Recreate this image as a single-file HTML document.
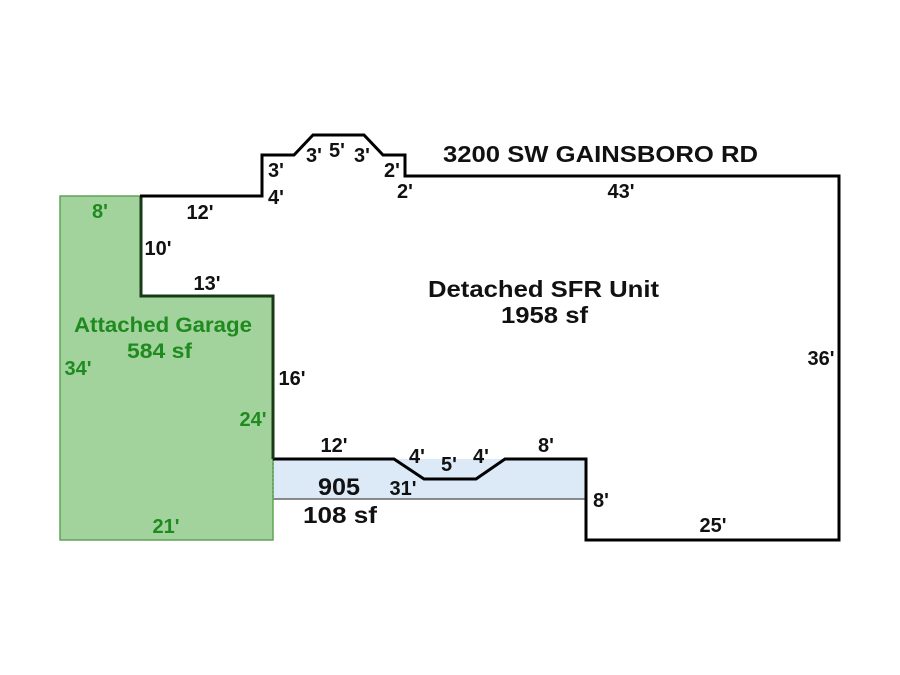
<!DOCTYPE html>
<html><head><meta charset="utf-8"><style>
html,body{margin:0;padding:0;background:#fff;}
svg{display:block;}
text{font-family:"Liberation Sans",Arial,sans-serif;font-weight:bold;}
</style></head><body>
<svg width="900" height="675" viewBox="0 0 900 675" xmlns="http://www.w3.org/2000/svg">
<rect width="900" height="675" fill="#fff"/>
<!-- blue patio -->
<rect x="273" y="459" width="313" height="40" fill="#dce9f7"/>
<line x1="273" y1="499" x2="586" y2="499" stroke="#666" stroke-width="1.5"/>
<!-- garage (L-shape) -->
<polygon points="60,196 141,196 141,296 273,296 273,540 60,540" fill="#a3d39c" stroke="#5fa555" stroke-width="1.5"/>
<line x1="273" y1="459" x2="273" y2="499" stroke="#4a8a44" stroke-width="1" stroke-dasharray="2,2"/>
<!-- house outline -->
<polyline points="141,196 262,196 262,155 294,155 313,135 364,135 383,155 405,155 405,176 839,176 839,540 586,540 586,459 505,459 476,479 424,479 394,459 273,459" fill="none" stroke="#000" stroke-width="3" stroke-linejoin="miter"/>
<polyline points="141,196 141,296 273,296 273,459" fill="none" stroke="#173a17" stroke-width="3"/>
<line x1="140" y1="196" x2="263" y2="196" stroke="#000" stroke-width="3"/>

<!-- big labels -->
<text x="443" y="162" font-size="23.5" textLength="315" lengthAdjust="spacingAndGlyphs" fill="#111">3200 SW GAINSBORO RD</text>
<text x="428" y="297" font-size="23.5" textLength="231" lengthAdjust="spacingAndGlyphs" fill="#111">Detached SFR Unit</text>
<text x="501" y="323" font-size="23.5" textLength="87" lengthAdjust="spacingAndGlyphs" fill="#111">1958 sf</text>
<text x="318" y="495" font-size="24" textLength="42" lengthAdjust="spacingAndGlyphs" fill="#111">905</text>
<text x="303" y="523" font-size="23.5" textLength="74" lengthAdjust="spacingAndGlyphs" fill="#111">108 sf</text>
<text x="74" y="332" font-size="21" textLength="178" lengthAdjust="spacingAndGlyphs" fill="#1f8a1f">Attached Garage</text>
<text x="127" y="358" font-size="21" textLength="65" lengthAdjust="spacingAndGlyphs" fill="#1f8a1f">584 sf</text>

<!-- dimension labels black -->
<g font-size="20" fill="#111" text-anchor="middle">
<text x="200" y="219">12'</text>
<text x="158" y="255">10'</text>
<text x="207" y="290">13'</text>
<text x="276" y="177">3'</text>
<text x="276" y="204">4'</text>
<text x="314" y="162">3'</text>
<text x="337" y="157">5'</text>
<text x="362" y="162">3'</text>
<text x="392" y="177">2'</text>
<text x="405" y="198">2'</text>
<text x="621" y="198">43'</text>
<text x="292" y="385">16'</text>
<text x="821" y="365">36'</text>
<text x="334" y="452">12'</text>
<text x="417" y="463">4'</text>
<text x="449" y="471">5'</text>
<text x="481" y="463">4'</text>
<text x="546" y="452">8'</text>
<text x="403" y="495">31'</text>
<text x="601" y="507">8'</text>
<text x="713" y="532">25'</text>
</g>
<g font-size="20" fill="#1f8a1f" text-anchor="middle">
<text x="100" y="218">8'</text>
<text x="78" y="375">34'</text>
<text x="253" y="426">24'</text>
<text x="166" y="533">21'</text>
</g>
</svg>
</body></html>
